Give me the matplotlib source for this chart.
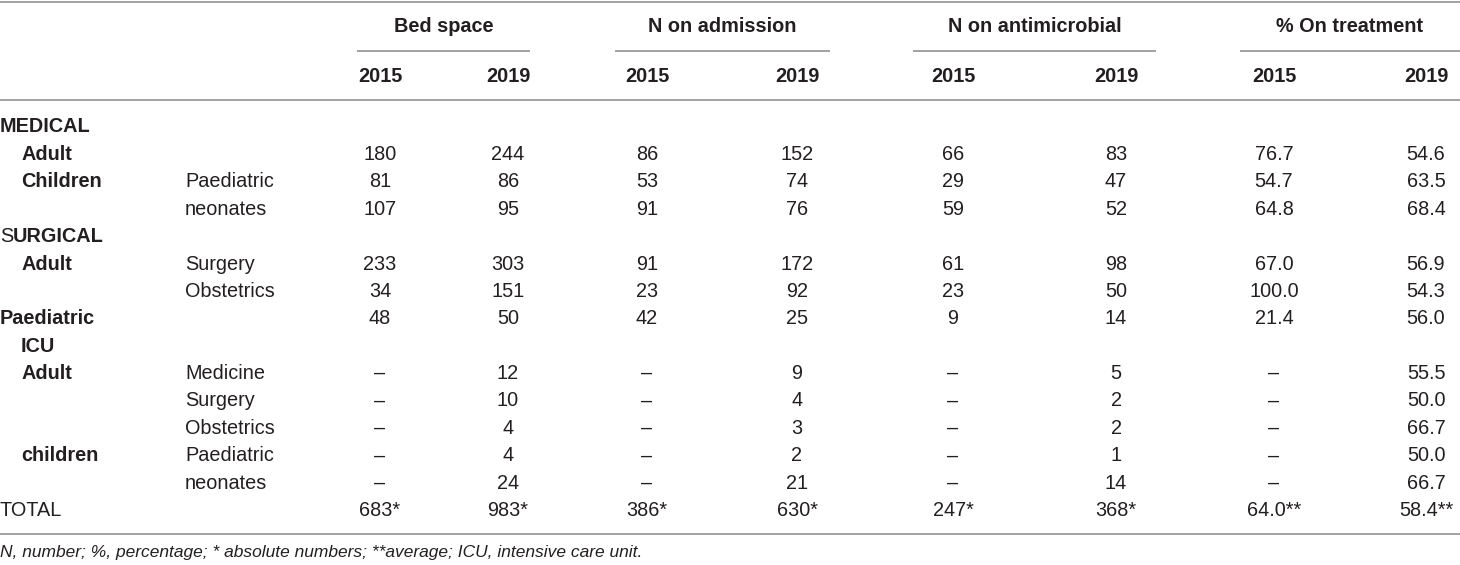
import matplotlib
matplotlib.use("Agg")
import matplotlib.pyplot as plt

plt.rcParams['font.family'] = ['Liberation Sans', 'DejaVu Sans']

# table content
groups = ["Bed space", "N on admission", "N on antimicrobial", "% On treatment"]
years = ["2015", "2019"]

main_labels = ["MEDICAL", "Adult", "Children", "", "SURGICAL", "Adult", "",
               "Paediatric", "ICU", "Adult", "", "", "children", "", "TOTAL"]
sub_labels = ["", "", "Paediatric", "neonates", "", "Surgery", "Obstetrics", "",
              "", "Medicine", "Surgery", "Obstetrics", "Paediatric", "neonates", ""]

D = "\u2013"
bed_2015 = ["", "180", "81", "107", "", "233", "34", "48", "", D, D, D, D, D, "683*"]
bed_2019 = ["", "244", "86", "95", "", "303", "151", "50", "", "12", "10", "4", "4", "24", "983*"]
adm_2015 = ["", "86", "53", "91", "", "91", "23", "42", "", D, D, D, D, D, "386*"]
adm_2019 = ["", "152", "74", "76", "", "172", "92", "25", "", "9", "4", "3", "2", "21", "630*"]
anti_2015 = ["", "66", "29", "59", "", "61", "23", "9", "", D, D, D, D, D, "247*"]
anti_2019 = ["", "83", "47", "52", "", "98", "50", "14", "", "5", "2", "2", "1", "14", "368*"]
trt_2015 = ["", "76.7", "54.7", "64.8", "", "67.0", "100.0", "21.4", "", D, D, D, D, D, "64.0**"]
trt_2019 = ["", "54.6", "63.5", "68.4", "", "56.9", "54.3", "56.0", "", "55.5", "50.0",
            "66.7", "50.0", "66.7", "58.4**"]

footnote = ("N, number; %, percentage; * absolute numbers; **average; "
            "ICU, intensive care unit.")

columns = [bed_2015, bed_2019, adm_2015, adm_2019,
           anti_2015, anti_2019, trt_2015, trt_2019]

# layout (pixel coords)
col_x = [380, 508, 647, 797, 953, 1116, 1274, 1426]
group_lines = [(357, 530), (615, 830), (913, 1156), (1240, 1460)]
row_y0, row_dy = 127, 27.4
bold_main = {"MEDICAL", "Adult", "Children", "Paediatric", "ICU", "children"}
indented = {1, 2, 5, 8, 9, 12}

TXT = "#231f20"
LINE = "#9b9b9b"
FS = 14.3

fig = plt.figure(figsize=(14.6, 5.65), dpi=100)
ax = fig.add_axes([0, 0, 1, 1])
ax.set_xlim(0, 1460)
ax.set_ylim(565, 0)
ax.axis("off")

# rules
ax.plot([0, 1460], [1.5, 1.5], color=LINE, lw=1.3, solid_capstyle="butt")
ax.plot([0, 1460], [100, 100], color=LINE, lw=1.3, solid_capstyle="butt")
ax.plot([0, 1460], [534, 534], color=LINE, lw=1.3, solid_capstyle="butt")
for (x0, x1) in group_lines:
    ax.plot([x0, x1], [51, 51], color=LINE, lw=1.3, solid_capstyle="butt")

# header
for i, g in enumerate(groups):
    xc = (col_x[2 * i] + col_x[2 * i + 1]) / 2
    ax.text(xc, 27, g, ha="center", va="center", fontsize=FS,
            fontweight="bold", color=TXT)
    for j, yr in enumerate(years):
        ax.text(col_x[2 * i + j], 76, yr, ha="center", va="center",
                fontsize=FS, fontweight="bold", color=TXT)

# body
for r in range(len(main_labels)):
    y = row_y0 + r * row_dy
    lab = main_labels[r]
    x = 21 if r in indented else 0
    if lab == "SURGICAL":
        s = ax.text(x, y, "S", ha="left", va="center", fontsize=FS, color=TXT)
        ax.annotate("URGICAL", xy=(1, y), xycoords=(s, "data"), ha="left",
                    va="center", fontsize=FS, fontweight="bold", color=TXT)
    elif lab:
        ax.text(x, y, lab, ha="left", va="center", fontsize=FS, color=TXT,
                fontweight="bold" if lab in bold_main else "normal")
    if sub_labels[r]:
        ax.text(185, y, sub_labels[r], ha="left", va="center", fontsize=FS,
                color=TXT)
    for c, vals in enumerate(columns):
        if vals[r]:
            ax.text(col_x[c], y, vals[r], ha="center", va="center",
                    fontsize=FS, color=TXT)

ax.text(0, 553, footnote, ha="left", va="center", fontsize=12.5,
        style="italic", color=TXT)

fig.savefig("out.png", dpi=100)
